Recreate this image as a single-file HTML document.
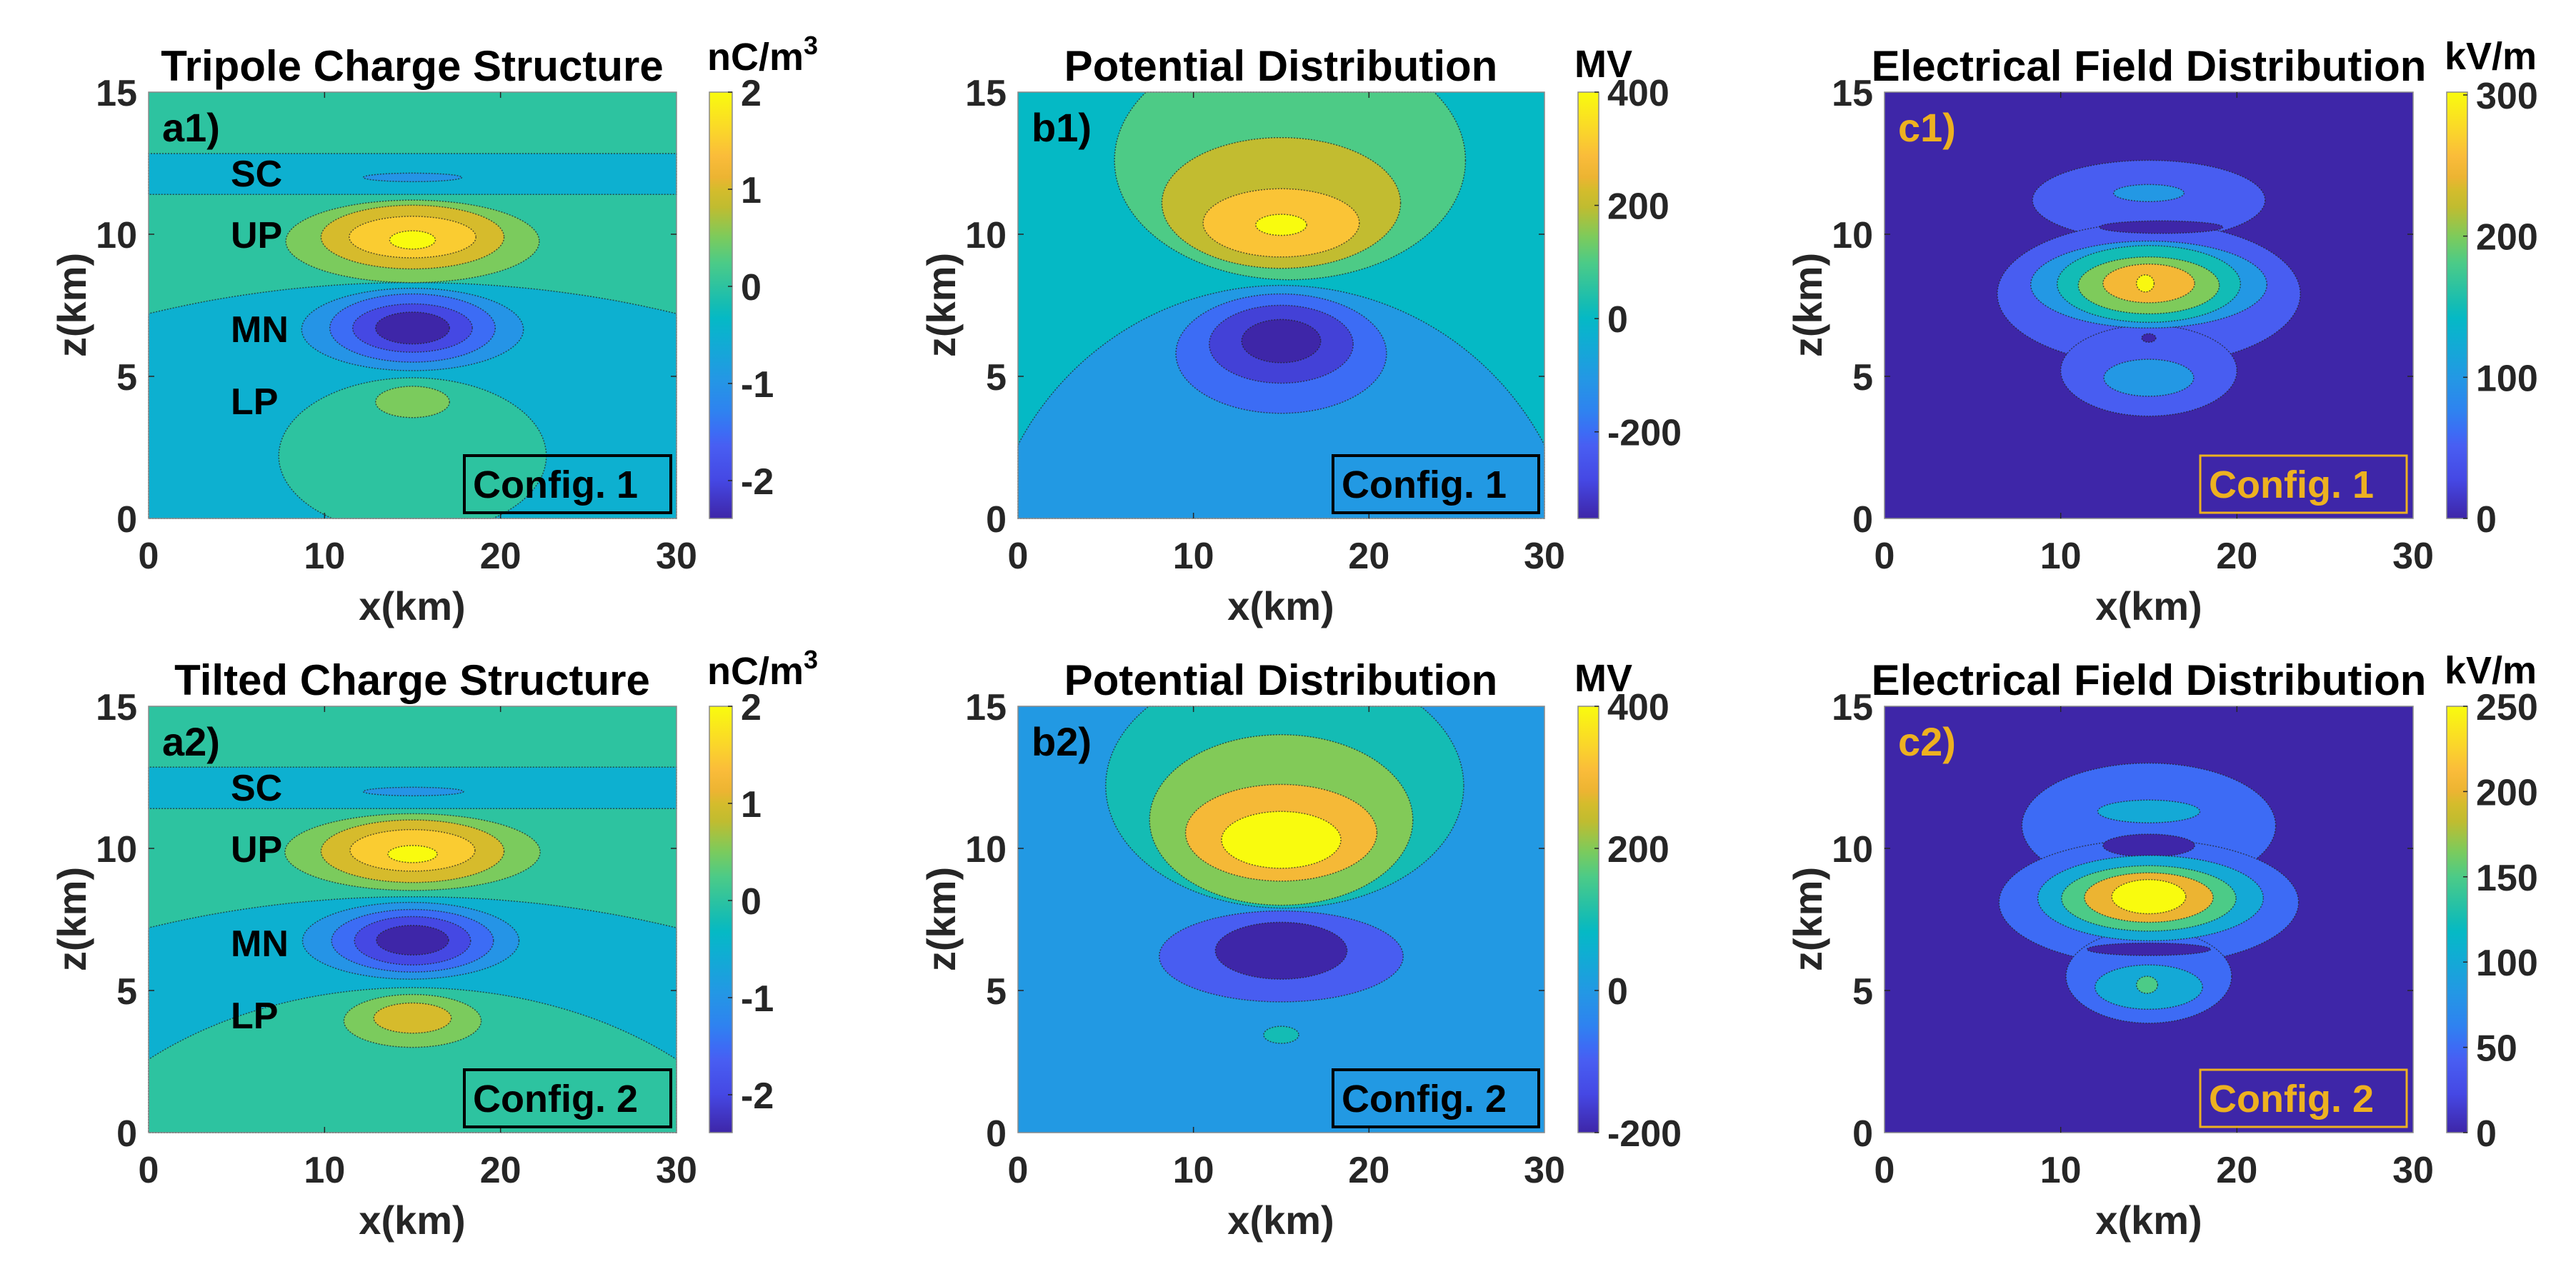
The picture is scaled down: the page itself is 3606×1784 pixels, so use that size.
<!DOCTYPE html>
<html><head><meta charset="utf-8"><title>Charge, potential and field distributions</title>
<style>
html,body{margin:0;padding:0;background:#fff;width:3606px;height:1784px;overflow:hidden;}
svg{display:block;font-family:"Liberation Sans",Arial,sans-serif;font-weight:bold;}
.tk{font-size:52px;fill:#262626;}
.ttl{font-size:60px;fill:#000;text-anchor:middle;}
.lab{font-size:56px;fill:#262626;text-anchor:middle;}
.unit{font-size:54px;fill:#000;}
.pl{font-size:56px;}
.reg{font-size:52px;fill:#000;}
.cfg{font-size:54px;}
</style></head>
<body>
<svg id="fig" width="3606" height="1784" viewBox="0 0 3606 1784" xmlns="http://www.w3.org/2000/svg">
<defs>
<linearGradient id="parula" x1="0" y1="1" x2="0" y2="0"></linearGradient>
</defs>
<g id="plots"></g>
<text class="ttl" x="577" y="113">Tripole Charge Structure</text>
<text class="ttl" x="1793" y="113">Potential Distribution</text>
<text class="ttl" x="3008" y="113">Electrical Field Distribution</text>
<text class="ttl" x="577" y="973">Tilted Charge Structure</text>
<text class="ttl" x="1793" y="973">Potential Distribution</text>
<text class="ttl" x="3008" y="973">Electrical Field Distribution</text>
<text class="unit" x="990" y="98">nC/m<tspan dy="-22" font-size="36">3</tspan></text>
<text class="unit" x="2204" y="108">MV</text>
<text class="unit" x="3422" y="97">kV/m</text>
<text class="unit" x="990" y="958">nC/m<tspan dy="-22" font-size="36">3</tspan></text>
<text class="unit" x="2204" y="968">MV</text>
<text class="unit" x="3422" y="957">kV/m</text>
<text class="lab" x="577" y="868">x(km)</text>
<text class="lab" x="1793" y="868">x(km)</text>
<text class="lab" x="3008" y="868">x(km)</text>
<text class="lab" x="577" y="1728">x(km)</text>
<text class="lab" x="1793" y="1728">x(km)</text>
<text class="lab" x="3008" y="1728">x(km)</text>
<text class="lab" transform="translate(120,427) rotate(-90)">z(km)</text>
<text class="lab" transform="translate(1337,427) rotate(-90)">z(km)</text>
<text class="lab" transform="translate(2550,427) rotate(-90)">z(km)</text>
<text class="lab" transform="translate(120,1287) rotate(-90)">z(km)</text>
<text class="lab" transform="translate(1337,1287) rotate(-90)">z(km)</text>
<text class="lab" transform="translate(2550,1287) rotate(-90)">z(km)</text>
<text class="pl" x="227" y="198" fill="#000">a1)</text>
<text class="pl" x="1444" y="198" fill="#000">b1)</text>
<text class="pl" x="2657" y="198" fill="#EDB120">c1)</text>
<text class="pl" x="227" y="1058" fill="#000">a2)</text>
<text class="pl" x="1444" y="1058" fill="#000">b2)</text>
<text class="pl" x="2657" y="1058" fill="#EDB120">c2)</text>
<text class="reg" x="323" y="261">SC</text>
<text class="reg" x="323" y="347">UP</text>
<text class="reg" x="323" y="479">MN</text>
<text class="reg" x="323" y="580">LP</text>
<text class="reg" x="323" y="1121">SC</text>
<text class="reg" x="323" y="1207">UP</text>
<text class="reg" x="323" y="1339">MN</text>
<text class="reg" x="323" y="1440">LP</text>
<g><rect x="650" y="638" width="289" height="80" fill="none" stroke="#000" stroke-width="4"/><text class="cfg" x="662" y="697" fill="#000">Config. 1</text></g>
<g><rect x="1866" y="638" width="288" height="80" fill="none" stroke="#000" stroke-width="4"/><text class="cfg" x="1878" y="697" fill="#000">Config. 1</text></g>
<g><rect x="3080" y="638" width="289" height="80" fill="none" stroke="#EDB120" stroke-width="3"/><text class="cfg" x="3092" y="697" fill="#EDB120">Config. 1</text></g>
<g><rect x="650" y="1498" width="289" height="80" fill="none" stroke="#000" stroke-width="4"/><text class="cfg" x="662" y="1557" fill="#000">Config. 2</text></g>
<g><rect x="1866" y="1498" width="288" height="80" fill="none" stroke="#000" stroke-width="4"/><text class="cfg" x="1878" y="1557" fill="#000">Config. 2</text></g>
<g><rect x="3080" y="1498" width="289" height="80" fill="none" stroke="#EDB120" stroke-width="3"/><text class="cfg" x="3092" y="1557" fill="#EDB120">Config. 2</text></g>
</svg>
<script>
// Region tuples: [band lower level, center x (km), center z (km), radius x (km), radius z (km)]
const a1Regions = [
 [0,15,7.5,1000,1000],[-0.5,15,-6.7,40,15],[-0.5,15,12.12,1000,0.72],[-1,15,12.0,2.8,0.15],
 [0,15,2.2,7.6,2.75],[0.5,15,4.1,2.1,0.55],
 [0.5,15,9.75,7.2,1.45],[1,15,9.9,5.2,1.12],[1.5,15,9.9,3.6,0.73],[2,15,9.8,1.3,0.32],
 [-1,15,6.65,6.3,1.45],[-1.5,15,6.7,4.7,1.2],[-2,15,6.7,3.4,0.85],[-2.5,15,6.7,2.1,0.56]
];
const a2Regions = [
 [0,15,7.5,1000,1000],[-0.5,15,-6.7,40,15],[0,15,-4.3,22,9.4],[-0.5,15,12.13,1000,0.73],[-1,15.05,12.0,2.85,0.15],
 [0.5,15,9.87,7.25,1.35],[1,15,9.9,5.2,1.1],[1.5,15,9.93,3.55,0.73],[2,15,9.8,1.4,0.3],
 [-1,14.9,6.75,6.15,1.35],[-1.5,15,6.75,4.6,1.1],[-2,15,6.75,3.3,0.85],[-2.5,15,6.77,2.05,0.52],
 [0.5,15,3.93,3.9,0.93],[1,15,4.03,2.2,0.53]
];
const b1Regions = [
 [0,15,7.5,1000,1000],[-100,15,-2.4,17,10.6],
 [100,15.5,12.6,10,4.2],[200,15,11.1,6.8,2.3],[300,15,10.4,4.45,1.2],[400,15,10.33,1.45,0.37],
 [-200,15,5.8,6,2.1],[-300,15,6.13,4.1,1.37],[-400,15,6.24,2.25,0.76]
];
const b2Regions = [
 [0,15,7.5,1000,1000],
 [100,15.2,12.2,10.2,4.3],[200,15,11.0,7.5,3.0],[300,15,10.55,5.45,1.7],[400,15,10.3,3.4,1.0],
 [-100,15,6.2,6.95,1.6],[-200,15,6.4,3.75,1.0],[100,15,3.44,1,0.3]
];
const c1Regions = [
 [0,15,7.5,1000,1000],[50,15,11.2,6.6,1.4],[50,15,7.9,8.6,2.5],[50,15,5.2,5,1.6],[0,15.7,10.25,3.5,0.22],
 [100,15,11.45,2,0.3],[100,15,8.23,6.7,1.53],[150,15,8.25,5.2,1.35],[200,15,8.2,4,1.0],[250,15,8.27,2.6,0.68],
 [300,14.8,8.27,0.5,0.3],[0,15,6.35,0.4,0.15],[100,15,4.95,2.55,0.65]
];
const c2Regions = [
 [0,15,7.5,1000,1000],[50,15,10.8,7.2,2.2],[50,15,8.1,8.5,2.2],[50,15,5.5,4.7,1.65],
 [0,15,10.1,2.6,0.4],[0,15,6.45,3.5,0.22],
 [100,15,11.3,2.9,0.4],[100,15.1,8.25,6.4,1.5],[150,15,8.24,4.95,1.15],[200,15,8.27,3.65,0.87],[250,15,8.3,2.1,0.6],
 [100,15,5.12,3.05,0.78],[150,14.9,5.2,0.6,0.3]
];
const climA = [-2.39, 2];
const climB1 = [-353, 400];
const climB2 = [-200, 400];
const climC1 = [0, 302];
const climC2 = [0, 250];
const cbTicksA = [-2, -1, 0, 1, 2];
const cbTicksB1 = [-200, 0, 200, 400];
const cbTicksB2 = [-200, 0, 200, 400];
const cbTicksC1 = [0, 100, 200, 300];
const cbTicksC2 = [0, 50, 100, 150, 200, 250];
const xTicks = [0, 10, 20, 30];
const zTicks = [0, 5, 10, 15];

const parulaStops = [
 [0.00,62,38,168],[0.09,69,72,228],[0.17,72,94,242],[0.20,61,107,245],[0.25,47,130,240],
 [0.33,35,152,228],[0.43,13,176,208],[0.47,5,185,197],[0.50,20,188,180],[0.60,76,203,135],
 [0.66,124,203,92],[0.73,192,188,48],[0.77,212,188,44],[0.80,236,180,50],[0.85,250,188,58],
 [0.90,250,210,45],[1.00,249,251,14]
];
function parula(t){
  t=Math.max(0,Math.min(1,t));
  for(let i=1;i<parulaStops.length;i++){
    const a=parulaStops[i-1],b=parulaStops[i];
    if(t<=b[0]){const f=(t-a[0])/(b[0]-a[0]);
      return 'rgb('+[1,2,3].map(k=>Math.round(a[k]+f*(b[k]-a[k]))).join(',')+')';}
  }
  return 'rgb(249,251,14)';
}
const NS='http://www.w3.org/2000/svg';
function mk(tag,attrs,parent){const e=document.createElementNS(NS,tag);for(const k in attrs)e.setAttribute(k,attrs[k]);parent.appendChild(e);return e;}

const grad=document.getElementById('parula');
for(const s of parulaStops){mk('stop',{offset:s[0],'stop-color':'rgb('+s[1]+','+s[2]+','+s[3]+')'},grad);}

const cols=[{L:208,R:947,cb0:993,cb1:1025},{L:1425,R:2162,cb0:2209,cb1:2238},{L:2638,R:3378,cb0:3425,cb1:3454}];
const rows=[{T:129,B:726},{T:989,B:1586}];
const panels=[
 {id:'a1',c:0,r:0,reg:a1Regions,clim:climA,cb:cbTicksA},
 {id:'b1',c:1,r:0,reg:b1Regions,clim:climB1,cb:cbTicksB1},
 {id:'c1',c:2,r:0,reg:c1Regions,clim:climC1,cb:cbTicksC1},
 {id:'a2',c:0,r:1,reg:a2Regions,clim:climA,cb:cbTicksA},
 {id:'b2',c:1,r:1,reg:b2Regions,clim:climB2,cb:cbTicksB2},
 {id:'c2',c:2,r:1,reg:c2Regions,clim:climC2,cb:cbTicksC2}
];
const root=document.getElementById('plots');
// ellipse boundary sampled and clamped to the axes box (exact intersection for convex shapes)
function clippedEllipse(cx,cy,rx,ry,L,R,T,B){
  const pts=[];
  for(let k=0;k<360;k++){
    const a=k*Math.PI/180;
    const x=Math.max(L,Math.min(R,cx+rx*Math.cos(a)));
    const y=Math.max(T,Math.min(B,cy+ry*Math.sin(a)));
    pts.push(x.toFixed(1)+','+y.toFixed(1));
  }
  return 'M'+pts.join('L')+'Z';
}
for(const p of panels){
  const C=cols[p.c],Rw=rows[p.r];
  const sx=x=>C.L+(x/30)*(C.R-C.L);
  const sz=z=>Rw.B-(z/15)*(Rw.B-Rw.T);
  const kx=(C.R-C.L)/30,kz=(Rw.B-Rw.T)/15;
  const g=mk('g',{},root);
  
  
  p.reg.forEach((r,i)=>{
    const col=parula((r[0]-p.clim[0])/(p.clim[1]-p.clim[0]));
    let e;
    if(i===0){
      e=mk('rect',{x:C.L,y:Rw.T,width:C.R-C.L,height:Rw.B-Rw.T,fill:col},g);
    }else{
      e=mk('path',{d:clippedEllipse(sx(r[1]),sz(r[2]),r[3]*kx,r[4]*kz,C.L,C.R,Rw.T,Rw.B),fill:col,stroke:'#222','stroke-width':1.5,'stroke-dasharray':'2 2','stroke-opacity':0.7},g);
    }
    
    
  });
  const box=mk('rect',{x:C.L,y:Rw.T,width:C.R-C.L,height:Rw.B-Rw.T,fill:'none',stroke:'#8a8a8a','stroke-width':1.5},root);
  
  
  for(const v of xTicks){
    const X=sx(v);
    if(v>0&&v<30){mk('line',{x1:X,x2:X,y1:Rw.B,y2:Rw.B-8,stroke:'#262626','stroke-width':1.5},root);mk('line',{x1:X,x2:X,y1:Rw.T,y2:Rw.T+8,stroke:'#262626','stroke-width':1.5},root);}
    const t=mk('text',{x:X,y:Rw.B+70,'text-anchor':'middle',class:'tk'},root);t.textContent=v;
    
    
  }
  for(const v of zTicks){
    const Y=sz(v);
    if(v>0&&v<15){mk('line',{x1:C.L,x2:C.L+8,y1:Y,y2:Y,stroke:'#262626','stroke-width':1.5},root);mk('line',{x1:C.R,x2:C.R-8,y1:Y,y2:Y,stroke:'#262626','stroke-width':1.5},root);}
    const t=mk('text',{x:C.L-16,y:Y+19,'text-anchor':'end',class:'tk'},root);t.textContent=v;
    
    
  }
  const cb=mk('rect',{x:C.cb0,y:Rw.T,width:C.cb1-C.cb0,height:Rw.B-Rw.T,fill:'url(#parula)',stroke:'#8a8a8a','stroke-width':1.5},root);
  
  
  const cz=v=>Rw.B-(v-p.clim[0])/(p.clim[1]-p.clim[0])*(Rw.B-Rw.T);
  for(const v of p.cb){
    const Y=cz(v);
    mk('line',{x1:C.cb1,x2:C.cb1-6,y1:Y,y2:Y,stroke:'#262626','stroke-width':1.5},root);
    const t=mk('text',{x:C.cb1+12,y:Y+19,class:'tk'},root);t.textContent=v;
    
    
  }
}
</script>
</body></html>
